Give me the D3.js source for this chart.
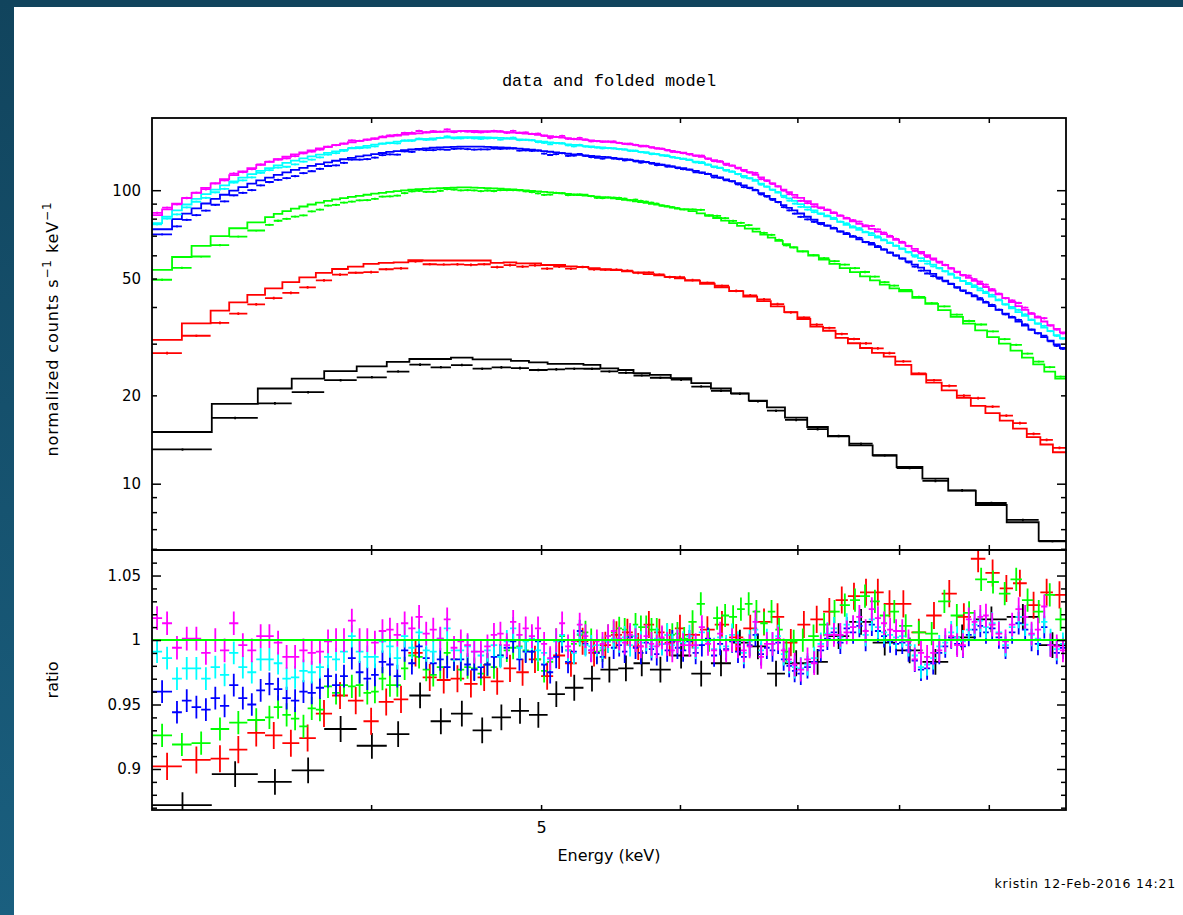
<!DOCTYPE html>
<html>
<head>
<meta charset="utf-8">
<title>data and folded model</title>
<script src="https://cdn.jsdelivr.net/npm/d3@7/dist/d3.min.js"></script>
<style>
html, body { margin:0; padding:0; background:#ffffff; overflow:hidden; }
svg { display:block; }
</style>
</head>
<body>
<svg id="chart" width="1183" height="915"></svg>
<script>
// ================= DATA =================
// Energy axis (keV) and tick values
const energyDomain = [3.0, 9.96];
const energyTicks = [4, 5, 6, 7, 8, 9];
const energyLabels = [5];
// Count-rate axis (normalized counts s^-1 keV^-1)
const countDomain = [5.944, 176.2];
const countTicksMinor = [6, 7, 8, 9, 20, 30, 40, 50, 60, 70, 80, 90];
const countTicksMajor = [10, 100];
const countLabels = [10, 20, 50, 100];
// Ratio axis
const ratioDomain = [0.8682, 1.0698];
const ratioTicksMinor = [0.87, 0.88, 0.89, 0.91, 0.92, 0.93, 0.94, 0.96, 0.97, 0.98, 0.99, 1.01, 1.02, 1.03, 1.04, 1.06];
const ratioTicksMajor = [0.9, 0.95, 1.0, 1.05];
const ratioLabels = [0.9, 0.95, 1, 1.05];

const seriesNames = ["black", "red", "green", "blue", "cyan", "magenta"];
const seriesColors = ["#000000", "#ff0000", "#00ff00", "#0000ff", "#00ffff", "#ff00ff"];
const ratioErr = [0.0100, 0.0105, 0.0090, 0.0088, 0.0088, 0.0092];

// ---- dataset 1 (black) ----
const blackEdges = [3.000, 3.245, 3.447, 3.604, 3.761, 3.925, 4.083, 4.206, 4.325, 4.442, 4.570, 4.686, 4.806, 4.921, 5.043, 5.159, 5.286, 5.405, 5.533, 5.645, 5.768, 5.928, 6.090, 6.249, 6.415, 6.567, 6.726, 6.887, 7.091, 7.286, 7.493, 7.727, 7.974, 8.249, 8.533, 8.848, 9.214, 9.609, 9.96];
const blackModel = [15.0, 18.7, 21.1, 22.8, 24.2, 25.1, 26.0, 26.6, 26.6, 26.9, 26.5, 26.5, 26.2, 25.9, 25.6, 25.6, 25.4, 24.7, 24.4, 23.8, 23.5, 22.9, 22.0, 21.1, 20.3, 19.2, 18.2, 16.8, 15.6, 14.5, 13.5, 12.5, 11.4, 10.4, 9.47, 8.46, 7.39, 6.39];
const blackRatio = [0.872, 0.896, 0.890, 0.899, 0.931, 0.918, 0.927, 0.957, 0.937, 0.943, 0.930, 0.940, 0.945, 0.942, 0.958, 0.963, 0.970, 0.977, 0.978, 0.982, 0.977, 0.988, 0.974, 0.982, 0.998, 0.995, 0.974, 0.982, 0.983, 1.003, 1.014, 0.998, 0.992, 0.983, 1.002, 1.016, 1.018, 0.996];

// ---- dataset 2 (red) ----
const redEdges = [3.00, 3.12, 3.24, 3.32, 3.40, 3.48, 3.56, 3.64, 3.72, 3.80, 3.88, 3.96, 4.04, 4.12, 4.20, 4.28, 4.36, 4.44, 4.52, 4.60, 4.68, 4.76, 4.84, 4.92, 5.00, 5.08, 5.16, 5.24, 5.32, 5.40, 5.48, 5.56, 5.64, 5.72, 5.80, 5.88, 5.96, 6.04, 6.16, 6.28, 6.40, 6.52, 6.64, 6.76, 6.88, 7.00, 7.12, 7.24, 7.36, 7.48, 7.60, 7.72, 7.84, 7.96, 8.13, 8.29, 8.46, 8.63, 8.79, 8.96, 9.13, 9.29, 9.46, 9.63, 9.79, 9.96];
const redModel = [30.9, 35.2, 38.9, 41.5, 44.0, 46.3, 48.6, 50.5, 52.3, 53.9, 54.9, 56.1, 56.5, 56.8, 57.8, 57.6, 57.6, 57.6, 57.6, 57.6, 56.5, 56.8, 56.3, 56.3, 55.6, 55.6, 55.0, 54.8, 54.3, 53.8, 53.4, 52.9, 52.5, 51.8, 51.3, 50.7, 50.1, 49.2, 48.0, 46.7, 45.3, 43.4, 41.9, 40.2, 38.4, 36.4, 34.3, 33.2, 31.4, 30.1, 29.0, 27.9, 27.1, 25.4, 23.6, 22.1, 20.8, 19.6, 18.4, 17.4, 16.4, 15.4, 14.4, 13.6, 12.8];
const redRatio = [0.902, 0.907, 0.908, 0.915, 0.928, 0.926, 0.920, 0.924, 0.943, 0.957, 0.953, 0.937, 0.952, 0.954, 0.990, 0.971, 0.969, 0.970, 0.966, 0.971, 0.968, 0.978, 0.975, 0.985, 0.972, 0.988, 0.982, 0.999, 0.990, 0.996, 1.004, 1.006, 0.995, 1.012, 1.006, 0.998, 1.009, 1.004, 1.008, 1.012, 1.002, 1.009, 1.014, 1.018, 0.998, 1.012, 1.016, 1.022, 1.031, 1.034, 1.037, 1.037, 1.028, 1.028, 1.006, 1.019, 1.036, 1.018, 1.063, 1.052, 1.040, 1.044, 1.027, 1.037, 1.035];

// ---- dataset 3 (green) ----
const greenEdges = [3.00, 3.08, 3.16, 3.24, 3.32, 3.40, 3.48, 3.52, 3.56, 3.60, 3.64, 3.68, 3.72, 3.76, 3.80, 3.84, 3.88, 3.92, 3.96, 4.00, 4.04, 4.08, 4.12, 4.16, 4.20, 4.24, 4.28, 4.32, 4.36, 4.40, 4.44, 4.48, 4.52, 4.56, 4.60, 4.64, 4.68, 4.72, 4.76, 4.80, 4.84, 4.88, 4.92, 4.96, 5.00, 5.04, 5.08, 5.12, 5.16, 5.20, 5.24, 5.28, 5.32, 5.36, 5.40, 5.44, 5.48, 5.52, 5.56, 5.60, 5.64, 5.68, 5.72, 5.76, 5.80, 5.84, 5.88, 5.92, 5.96, 6.00, 6.067, 6.133, 6.20, 6.267, 6.333, 6.40, 6.467, 6.533, 6.60, 6.667, 6.733, 6.80, 6.867, 6.933, 7.00, 7.10, 7.20, 7.30, 7.40, 7.50, 7.60, 7.70, 7.80, 7.90, 8.00, 8.14, 8.28, 8.42, 8.56, 8.70, 8.84, 8.98, 9.12, 9.26, 9.40, 9.54, 9.68, 9.82, 9.96];
const greenModel = [53.5, 59.2, 64.6, 69.8, 74.2, 77.7, 81.0, 83.0, 84.8, 86.5, 88.0, 89.4, 90.7, 91.9, 93.0, 94.0, 94.9, 95.7, 96.5, 97.3, 98.0, 98.7, 99.3, 99.9, 100.4, 100.8, 101.1, 101.4, 101.7, 101.9, 102.1, 102.2, 102.2, 102.1, 101.9, 101.7, 101.5, 101.2, 100.9, 100.6, 100.3, 99.9, 99.5, 99.1, 98.7, 98.3, 97.9, 97.5, 97.1, 96.7, 96.3, 95.9, 95.5, 95.1, 94.7, 94.3, 93.8, 93.3, 92.8, 92.3, 91.7, 91.1, 90.5, 89.9, 89.3, 88.6, 87.9, 87.2, 86.5, 86.0, 84.8, 83.4, 82.0, 80.4, 78.8, 77.2, 75.6, 74.0, 72.3, 70.6, 68.9, 67.2, 65.5, 63.9, 61.9, 59.9, 58.0, 56.1, 54.3, 52.6, 50.9, 49.3, 47.7, 46.3, 45.2, 43.0, 41.0, 39.0, 37.0, 35.1, 33.3, 31.6, 30.0, 28.4, 26.9, 25.5, 24.1, 22.8];
const greenRatio = [0.926, 0.919, 0.920, 0.931, 0.936, 0.938, 0.940, 0.948, 0.942, 0.939, 0.933, 0.947, 0.946, 0.964, 0.959, 0.965, 0.964, 0.965, 0.959, 0.960, 0.970, 0.965, 0.965, 0.978, 0.988, 0.987, 0.977, 0.973, 0.979, 0.990, 0.985, 0.977, 0.979, 0.978, 0.974, 0.981, 0.979, 0.988, 0.992, 0.994, 0.995, 0.992, 0.991, 0.985, 0.976, 0.983, 1.000, 1.003, 0.992, 0.997, 1.004, 1.006, 1.000, 0.991, 0.992, 1.003, 1.006, 1.009, 1.008, 1.003, 1.012, 1.010, 1.010, 1.008, 1.008, 1.001, 1.004, 1.004, 1.005, 1.001, 1.014, 1.028, 1.000, 1.017, 1.019, 1.018, 1.024, 1.028, 1.022, 1.013, 1.022, 1.008, 0.991, 0.999, 1.000, 1.003, 1.012, 1.022, 1.027, 1.031, 1.034, 1.030, 1.019, 1.022, 1.011, 1.006, 1.005, 1.030, 1.019, 1.021, 1.047, 1.045, 1.036, 1.047, 1.031, 1.022, 1.035, 1.016];

// ---- dataset 4 (blue) ----
const blueEdges = [3.00, 3.08, 3.12, 3.16, 3.20, 3.24, 3.28, 3.32, 3.36, 3.40, 3.44, 3.48, 3.52, 3.56, 3.60, 3.64, 3.68, 3.72, 3.76, 3.80, 3.84, 3.88, 3.92, 3.96, 4.00, 4.04, 4.08, 4.12, 4.16, 4.20, 4.24, 4.28, 4.32, 4.36, 4.40, 4.44, 4.48, 4.52, 4.56, 4.60, 4.64, 4.68, 4.72, 4.76, 4.80, 4.84, 4.88, 4.92, 4.96, 5.00, 5.04, 5.08, 5.12, 5.16, 5.20, 5.24, 5.28, 5.32, 5.36, 5.40, 5.44, 5.48, 5.52, 5.56, 5.60, 5.64, 5.68, 5.72, 5.76, 5.80, 5.84, 5.88, 5.92, 5.96, 6.00, 6.05, 6.10, 6.15, 6.20, 6.25, 6.30, 6.35, 6.40, 6.45, 6.50, 6.55, 6.60, 6.65, 6.70, 6.75, 6.80, 6.85, 6.90, 6.95, 7.00, 7.0625, 7.125, 7.1875, 7.25, 7.3125, 7.375, 7.4375, 7.50, 7.5625, 7.625, 7.6875, 7.75, 7.8125, 7.875, 7.9375, 8.00, 8.067, 8.133, 8.20, 8.267, 8.333, 8.40, 8.467, 8.533, 8.60, 8.667, 8.733, 8.80, 8.867, 8.933, 9.00, 9.08, 9.16, 9.24, 9.32, 9.40, 9.48, 9.56, 9.64, 9.72, 9.80, 9.88, 9.96];
const blueModel = [73.6, 79.7, 83.2, 86.7, 90.1, 93.4, 96.5, 99.6, 102.5, 105.3, 108.0, 110.4, 112.8, 115.1, 117.2, 119.1, 121.0, 122.7, 124.4, 126.0, 127.5, 128.9, 130.3, 131.5, 132.8, 133.9, 135.0, 135.9, 136.8, 137.6, 138.3, 138.9, 139.5, 139.9, 140.3, 140.5, 140.7, 140.8, 140.8, 140.7, 140.5, 140.3, 139.9, 139.5, 139.0, 138.5, 138.0, 137.4, 136.6, 135.9, 135.2, 134.5, 133.8, 133.1, 132.4, 131.9, 131.3, 130.8, 130.3, 129.8, 129.4, 128.9, 128.2, 127.6, 126.9, 126.2, 125.5, 124.8, 124.0, 123.2, 122.3, 121.4, 120.5, 119.6, 118.9, 117.6, 116.3, 115.0, 113.5, 112.0, 110.5, 108.9, 107.3, 105.6, 103.8, 102.0, 99.9, 97.8, 95.6, 93.4, 91.2, 88.9, 87.1, 85.3, 83.3, 81.2, 79.3, 77.3, 75.7, 74.0, 72.4, 70.8, 69.3, 68.0, 66.6, 65.3, 64.0, 62.7, 61.3, 60.0, 58.6, 57.2, 55.8, 54.5, 53.2, 51.9, 50.5, 49.2, 47.9, 46.7, 45.6, 44.5, 43.5, 42.4, 41.4, 40.3, 39.1, 38.0, 36.8, 35.7, 34.6, 33.5, 32.6, 31.6, 30.7, 29.8, 29.0];
const blueRatio = [0.960, 0.944, 0.953, 0.948, 0.946, 0.955, 0.949, 0.965, 0.955, 0.950, 0.961, 0.966, 0.962, 0.955, 0.953, 0.960, 0.959, 0.963, 0.972, 0.965, 0.972, 0.986, 0.975, 0.970, 0.973, 0.983, 0.981, 0.972, 0.992, 0.982, 0.995, 0.986, 0.982, 0.985, 0.979, 0.985, 0.985, 0.981, 0.977, 0.979, 0.981, 0.987, 0.988, 0.994, 0.999, 0.985, 0.991, 0.991, 0.999, 0.981, 0.975, 0.987, 0.999, 0.983, 0.991, 1.007, 0.997, 0.992, 0.990, 0.987, 0.999, 0.994, 0.996, 0.991, 1.002, 0.994, 0.990, 0.998, 0.993, 0.989, 0.997, 0.992, 0.999, 0.994, 0.992, 0.999, 0.990, 0.996, 1.001, 0.988, 0.997, 0.993, 0.999, 0.991, 0.987, 0.996, 1.004, 0.989, 0.994, 0.992, 0.998, 0.985, 0.980, 0.976, 0.974, 0.979, 0.983, 0.992, 1.001, 1.006, 0.998, 1.009, 1.006, 1.011, 1.000, 1.012, 1.007, 1.003, 0.999, 0.997, 0.998, 0.992, 0.984, 0.977, 0.978, 0.982, 0.990, 0.995, 1.002, 0.997, 0.995, 1.004, 1.008, 1.011, 1.006, 1.009, 1.002, 0.994, 1.006, 1.013, 1.008, 1.000, 0.997, 1.010, 0.996, 0.990, 0.994];

// ---- datasets 5 and 6 (cyan, magenta) share this binning ----
const fineEdges = [3.00, 3.04, 3.08, 3.12, 3.16, 3.20, 3.24, 3.28, 3.32, 3.36, 3.40, 3.44, 3.48, 3.52, 3.56, 3.60, 3.64, 3.68, 3.72, 3.76, 3.80, 3.84, 3.88, 3.92, 3.96, 4.00, 4.04, 4.08, 4.12, 4.16, 4.20, 4.24, 4.28, 4.32, 4.36, 4.40, 4.44, 4.48, 4.52, 4.56, 4.60, 4.64, 4.68, 4.72, 4.76, 4.80, 4.84, 4.88, 4.92, 4.96, 5.00, 5.04, 5.08, 5.12, 5.16, 5.20, 5.24, 5.28, 5.32, 5.36, 5.40, 5.44, 5.48, 5.52, 5.56, 5.60, 5.64, 5.68, 5.72, 5.76, 5.80, 5.84, 5.88, 5.92, 5.96, 6.00, 6.05, 6.10, 6.15, 6.20, 6.25, 6.30, 6.35, 6.40, 6.45, 6.50, 6.55, 6.60, 6.65, 6.70, 6.75, 6.80, 6.85, 6.90, 6.95, 7.00, 7.0625, 7.125, 7.1875, 7.25, 7.3125, 7.375, 7.4375, 7.50, 7.5625, 7.625, 7.6875, 7.75, 7.8125, 7.875, 7.9375, 8.00, 8.067, 8.133, 8.20, 8.267, 8.333, 8.40, 8.467, 8.533, 8.60, 8.667, 8.733, 8.80, 8.867, 8.933, 9.00, 9.08, 9.16, 9.24, 9.32, 9.40, 9.48, 9.56, 9.64, 9.72, 9.80, 9.88, 9.96];
const cyanModel = [77.2, 81.2, 85.3, 89.4, 93.4, 97.0, 100.5, 103.9, 107.2, 110.4, 113.4, 116.3, 118.9, 121.5, 123.9, 126.2, 128.3, 130.3, 132.2, 134.0, 135.7, 137.3, 138.9, 140.3, 141.6, 143.0, 144.2, 145.3, 146.4, 147.3, 148.2, 149.0, 149.6, 150.2, 150.7, 151.1, 151.3, 151.5, 151.6, 151.6, 151.5, 151.3, 151.1, 150.7, 150.2, 149.7, 149.1, 148.6, 147.9, 147.0, 146.4, 145.6, 144.9, 144.1, 143.3, 142.6, 142.0, 141.4, 140.9, 140.3, 139.8, 139.3, 138.8, 138.1, 137.4, 136.7, 135.9, 135.1, 134.4, 133.5, 132.7, 131.7, 130.8, 129.8, 128.8, 128.0, 126.7, 125.2, 123.8, 122.3, 120.6, 119.0, 117.3, 115.5, 113.7, 111.8, 109.9, 107.6, 105.3, 102.9, 100.5, 98.2, 95.8, 93.8, 91.9, 89.7, 87.5, 85.4, 83.3, 81.5, 79.7, 78.0, 76.2, 74.6, 73.2, 71.8, 70.3, 68.9, 67.5, 66.0, 64.6, 63.1, 61.6, 60.1, 58.7, 57.3, 55.8, 54.4, 53.0, 51.6, 50.3, 49.1, 47.9, 46.8, 45.6, 44.6, 43.4, 42.1, 40.9, 39.6, 38.4, 37.3, 36.1, 35.1, 34.0, 33.1, 32.1, 31.3];
const cyanRatio = [0.991, 0.986, 0.970, 0.978, 0.978, 0.970, 0.979, 0.973, 0.990, 0.979, 0.975, 0.985, 0.985, 0.982, 0.970, 0.971, 0.976, 0.975, 0.979, 0.987, 0.985, 0.991, 1.003, 0.991, 0.987, 0.987, 0.999, 0.995, 0.986, 1.003, 0.994, 1.006, 0.992, 0.991, 1.001, 1.009, 0.992, 0.992, 0.995, 0.991, 0.988, 0.992, 0.996, 0.987, 0.999, 1.009, 0.994, 0.999, 1.001, 0.992, 0.990, 0.985, 0.999, 1.004, 0.992, 0.990, 1.005, 0.996, 0.995, 0.996, 0.994, 0.999, 1.001, 0.999, 1.002, 0.996, 1.003, 0.998, 1.000, 0.995, 1.001, 0.997, 1.004, 0.996, 1.000, 0.998, 1.003, 0.994, 1.006, 0.999, 0.993, 1.002, 0.995, 1.004, 0.998, 0.990, 0.999, 1.008, 0.992, 1.000, 0.997, 1.003, 0.989, 0.983, 0.979, 0.978, 0.981, 0.986, 0.997, 1.005, 1.009, 1.002, 1.012, 1.010, 1.014, 1.004, 1.016, 1.010, 1.006, 1.004, 1.002, 1.003, 0.996, 0.988, 0.979, 0.981, 0.986, 0.995, 0.998, 1.006, 1.002, 0.999, 1.008, 1.012, 1.015, 1.010, 1.013, 1.006, 0.996, 1.010, 1.018, 1.012, 1.004, 1.001, 1.014, 1.000, 0.993, 0.997];
const magentaModel = [82.3, 86.1, 90.0, 94.0, 98.0, 101.8, 105.5, 109.0, 112.5, 115.8, 119.0, 122.0, 124.8, 127.5, 130.0, 132.4, 134.6, 136.7, 138.7, 140.6, 142.4, 144.1, 145.7, 147.2, 148.6, 150.0, 151.3, 152.5, 153.6, 154.6, 155.5, 156.3, 157.0, 157.6, 158.1, 158.5, 158.8, 159.0, 159.1, 159.1, 159.0, 158.8, 158.5, 158.1, 157.6, 157.1, 156.5, 155.9, 155.2, 154.3, 153.6, 152.8, 152.0, 151.2, 150.4, 149.6, 149.0, 148.4, 147.8, 147.2, 146.7, 146.2, 145.6, 144.9, 144.2, 143.4, 142.6, 141.8, 141.0, 140.1, 139.2, 138.2, 137.2, 136.2, 135.1, 134.3, 132.9, 131.4, 129.9, 128.3, 126.6, 124.9, 123.1, 121.2, 119.3, 117.3, 115.3, 112.9, 110.5, 108.0, 105.5, 103.0, 100.5, 98.4, 96.4, 94.1, 91.8, 89.6, 87.4, 85.5, 83.6, 81.8, 80.0, 78.3, 76.8, 75.3, 73.8, 72.3, 70.8, 69.3, 67.8, 66.2, 64.6, 63.1, 61.6, 60.1, 58.6, 57.1, 55.6, 54.1, 52.8, 51.5, 50.3, 49.1, 47.9, 46.8, 45.5, 44.2, 42.9, 41.6, 40.3, 39.1, 37.9, 36.8, 35.7, 34.7, 33.7, 32.8];
const magentaRatio = [1.017, 1.013, 0.994, 1.001, 1.001, 0.990, 1.000, 0.992, 1.013, 0.996, 0.992, 1.003, 1.003, 0.998, 0.987, 0.987, 0.992, 0.990, 0.991, 0.999, 1.000, 1.000, 1.015, 1.000, 1.000, 0.998, 1.007, 1.008, 1.004, 1.013, 1.009, 1.018, 1.005, 1.008, 1.001, 1.016, 0.994, 0.999, 0.996, 0.991, 0.991, 0.995, 1.004, 1.005, 0.996, 1.014, 1.004, 1.009, 1.003, 1.009, 0.997, 0.986, 1.000, 1.013, 0.995, 0.999, 1.012, 1.003, 0.992, 0.999, 0.997, 1.003, 1.007, 1.001, 0.998, 1.004, 1.000, 0.995, 1.003, 0.997, 0.995, 1.002, 0.997, 0.992, 0.999, 0.996, 0.996, 0.996, 1.010, 0.997, 0.992, 1.005, 0.992, 1.000, 0.995, 0.992, 0.995, 1.014, 0.987, 0.997, 0.997, 1.001, 0.992, 0.985, 0.981, 0.977, 0.985, 0.982, 0.995, 1.004, 1.004, 1.004, 1.006, 1.010, 1.018, 1.007, 1.024, 1.017, 1.013, 1.008, 1.007, 1.007, 0.999, 0.985, 0.990, 0.987, 0.990, 0.992, 1.000, 1.003, 0.996, 0.996, 1.016, 1.014, 1.018, 1.019, 1.012, 1.005, 0.999, 1.012, 1.024, 1.018, 1.005, 1.008, 1.026, 0.996, 0.995, 0.992];

const seriesEdges = [blackEdges, redEdges, greenEdges, blueEdges, fineEdges, fineEdges];
const seriesModel = [blackModel, redModel, greenModel, blueModel, cyanModel, magentaModel];
const seriesRatio = [blackRatio, redRatio, greenRatio, blueRatio, cyanRatio, magentaRatio];

// ================= LAYOUT =================
const W = 1183, H = 915;
const PX0 = 152, PX1 = 1066;      // plot frame left/right
const TOP0 = 118, SPLIT = 550, BOT1 = 810;
const FONT = '"DejaVu Sans", Verdana, sans-serif';

const svg = d3.select('#chart');
const defs = svg.append('defs');

// page background with dark blue-teal border strips
const g = defs.append('linearGradient').attr('id', 'band').attr('x1', 0).attr('y1', 0).attr('x2', 0).attr('y2', 1);
g.append('stop').attr('offset', '0%').attr('stop-color', '#11445d');
g.append('stop').attr('offset', '100%').attr('stop-color', '#1a5f7f');
svg.append('rect').attr('x', 0).attr('y', 0).attr('width', W).attr('height', H).attr('fill', '#ffffff');
svg.append('rect').attr('x', 0).attr('y', 0).attr('width', W).attr('height', 7).attr('fill', '#11445d');
svg.append('rect').attr('x', 0).attr('y', 0).attr('width', 14).attr('height', H).attr('fill', 'url(#band)');

// scales
const x = d3.scaleLog().domain(energyDomain).range([PX0, PX1]);
const yTop = d3.scaleLog().domain(countDomain).range([SPLIT, TOP0]);
const yRat = d3.scaleLinear().domain(ratioDomain).range([BOT1, SPLIT]);

defs.append('clipPath').attr('id', 'clipTop').append('rect')
  .attr('x', PX0).attr('y', TOP0).attr('width', PX1 - PX0).attr('height', SPLIT - TOP0);
defs.append('clipPath').attr('id', 'clipBot').append('rect')
  .attr('x', PX0).attr('y', SPLIT).attr('width', PX1 - PX0).attr('height', BOT1 - SPLIT);

const gTop = svg.append('g').attr('clip-path', 'url(#clipTop)');
const gBot = svg.append('g').attr('clip-path', 'url(#clipBot)');

const LW = 1.8;

seriesNames.forEach((name, i) => {
  const edges = seriesEdges[i], model = seriesModel[i], ratio = seriesRatio[i];
  const n = Math.min(model.length, ratio.length, edges.length - 1);
  const color = seriesColors[i], err = ratioErr[i];
  let dataPath = '', modelPath = '', ratPath = '';
  for (let j = 0; j < n; j++) {
    const e0 = edges[j], e1 = edges[j + 1], ec = (e0 + e1) / 2;
    const xa = x(e0), xb = x(e1), xc = x(ec);
    const m = model[j], r = ratio[j], d = m * r;
    // top panel: data cross
    dataPath += `M${xa},${yTop(d)}H${xb}M${xc},${yTop(d * (1 - err))}V${yTop(d * (1 + err))}`;
    // top panel: folded model histogram
    modelPath += (j === 0 ? `M${xa},${yTop(m)}` : `V${yTop(m)}`) + `H${xb}`;
    // bottom panel: ratio cross
    ratPath += `M${xa},${yRat(r)}H${xb}M${xc},${yRat(r - err)}V${yRat(r + err)}`;
  }
  gTop.append('path').attr('class', 'data ' + name).attr('d', dataPath)
    .attr('fill', 'none').attr('stroke', color).attr('stroke-width', LW);
  gTop.append('path').attr('class', 'model ' + name).attr('d', modelPath)
    .attr('fill', 'none').attr('stroke', color).attr('stroke-width', LW);
  gBot.append('path').attr('class', 'ratio ' + name).attr('d', ratPath)
    .attr('fill', 'none').attr('stroke', color).attr('stroke-width', LW);
});

// unity line in ratio panel
gBot.append('line').attr('x1', PX0).attr('x2', PX1).attr('y1', yRat(1)).attr('y2', yRat(1))
  .attr('stroke', '#00ff00').attr('stroke-width', 2);

// ================= AXES =================
function styleAxis(sel) {
  sel.select('.domain').remove();
  sel.selectAll('.tick line').attr('stroke', '#000').attr('stroke-width', 1.5);
  sel.selectAll('.tick text').attr('font-family', FONT).attr('font-size', 15).attr('fill', '#000');
}
function addAxis(axis, tx, ty) {
  const a = svg.append('g').attr('transform', `translate(${tx},${ty})`).call(axis);
  styleAxis(a);
  return a;
}
const none = () => '';

// energy ticks: top and bottom of both panels, pointing inward
addAxis(d3.axisBottom(x).tickValues(energyTicks).tickSize(-5).tickFormat(none), 0, SPLIT);
addAxis(d3.axisTop(x).tickValues(energyTicks).tickSize(-5).tickFormat(none), 0, TOP0);
addAxis(d3.axisTop(x).tickValues(energyTicks).tickSize(-5).tickFormat(none), 0, SPLIT);
addAxis(d3.axisBottom(x).tickValues(energyTicks).tickSize(-5).tickFormat(none), 0, BOT1);
const xLab = addAxis(d3.axisBottom(x).tickValues(energyLabels).tickSize(0).tickPadding(12).tickFormat(d3.format('d')), 0, BOT1);
xLab.selectAll('.tick text').attr('font-size', 16);

// count-rate axis (log)
addAxis(d3.axisLeft(yTop).tickValues(countTicksMinor).tickSize(-5).tickFormat(none), PX0, 0);
addAxis(d3.axisLeft(yTop).tickValues(countTicksMajor).tickSize(-9).tickFormat(none), PX0, 0);
addAxis(d3.axisRight(yTop).tickValues(countTicksMinor).tickSize(-5).tickFormat(none), PX1, 0);
addAxis(d3.axisRight(yTop).tickValues(countTicksMajor).tickSize(-9).tickFormat(none), PX1, 0);
addAxis(d3.axisLeft(yTop).tickValues(countLabels).tickSize(0).tickPadding(11).tickFormat(d3.format('d')), PX0, 0);

// ratio axis
addAxis(d3.axisLeft(yRat).tickValues(ratioTicksMinor).tickSize(-5).tickFormat(none), PX0, 0);
addAxis(d3.axisLeft(yRat).tickValues(ratioTicksMajor).tickSize(-9).tickFormat(none), PX0, 0);
addAxis(d3.axisRight(yRat).tickValues(ratioTicksMinor).tickSize(-5).tickFormat(none), PX1, 0);
addAxis(d3.axisRight(yRat).tickValues(ratioTicksMajor).tickSize(-9).tickFormat(none), PX1, 0);
addAxis(d3.axisLeft(yRat).tickValues(ratioLabels).tickSize(0).tickPadding(11).tickFormat(v => String(+v.toFixed(2))), PX0, 0);

// frames
svg.append('rect').attr('x', PX0).attr('y', TOP0).attr('width', PX1 - PX0).attr('height', SPLIT - TOP0)
  .attr('fill', 'none').attr('stroke', '#000').attr('stroke-width', 1.8);
svg.append('rect').attr('x', PX0).attr('y', SPLIT).attr('width', PX1 - PX0).attr('height', BOT1 - SPLIT)
  .attr('fill', 'none').attr('stroke', '#000').attr('stroke-width', 1.8);

// ================= TEXT =================
svg.append('text').attr('x', (PX0 + PX1) / 2).attr('y', 86).attr('text-anchor', 'middle')
  .attr('font-family', '"Liberation Mono", "DejaVu Sans Mono", monospace').attr('font-size', 17)
  .text('data and folded model');

svg.append('text').attr('x', (PX0 + PX1) / 2).attr('y', 861).attr('text-anchor', 'middle')
  .attr('font-family', FONT).attr('font-size', 16).text('Energy (keV)');

const yl = svg.append('text').attr('transform', `translate(58,329) rotate(-90)`)
  .attr('text-anchor', 'middle').attr('font-family', FONT).attr('font-size', 16).attr('letter-spacing', 0.9);
yl.append('tspan').text('normalized counts s');
yl.append('tspan').attr('dy', -7).attr('font-size', 12).text('−1');
yl.append('tspan').attr('dy', 7).text(' keV');
yl.append('tspan').attr('dy', -7).attr('font-size', 12).text('−1');

svg.append('text').attr('transform', `translate(58,${(SPLIT + BOT1) / 2}) rotate(-90)`)
  .attr('text-anchor', 'middle').attr('font-family', FONT).attr('font-size', 16).text('ratio');

svg.append('text').attr('x', 1176).attr('y', 888).attr('text-anchor', 'end')
  .attr('font-family', FONT).attr('font-size', 12.5).attr('letter-spacing', 0.8).text('kristin 12-Feb-2016 14:21');
</script>
</body>
</html>
